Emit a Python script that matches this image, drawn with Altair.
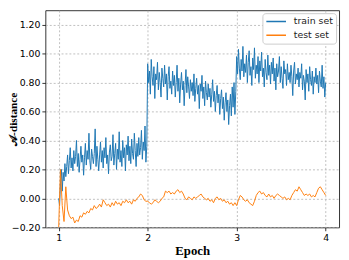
import altair as alt
import pandas as pd

# epochs sampled along the x axis
epoch_train = [round(1 + 0.01 * i, 2) for i in range(301)]
epoch_test = [round(1 + 0.02 * i, 2) for i in range(151)]

train_set = [
    0.00, -0.05, 0.10, 0.20, 0.05, 0.18, 0.12, 0.24, 0.15, 0.22,
    0.30, 0.17, 0.26, 0.35, 0.21, 0.28, 0.19, 0.33, 0.24, 0.29,
    0.40, 0.22, 0.31, 0.18, 0.27, 0.36, 0.25, 0.30, 0.16, 0.28,
    0.38, 0.23, 0.33, 0.27, 0.45, 0.26, 0.20, 0.34, 0.29, 0.24,
    0.31, 0.48, 0.22, 0.36, 0.27, 0.19, 0.30, 0.39, 0.25, 0.33,
    0.21, 0.35, 0.28, 0.42, 0.24, 0.30, 0.17, 0.32, 0.37, 0.26,
    0.29, 0.44, 0.23, 0.31, 0.38, 0.20, 0.34, 0.27, 0.46, 0.25,
    0.33, 0.22, 0.40, 0.28, 0.35, 0.19, 0.37, 0.30, 0.43, 0.26,
    0.36, 0.24, 0.41, 0.31, 0.27, 0.45, 0.33, 0.22, 0.38, 0.29,
    0.42, 0.30, 0.35, 0.47, 0.27, 0.39, 0.33, 0.50, 0.25, 0.36,
    0.93, 0.80, 0.88, 0.72, 0.96, 0.84, 0.78, 0.91, 0.69, 0.86,
    0.82, 0.94, 0.75, 0.87, 0.80, 0.70, 0.90, 0.83, 0.77, 0.92,
    0.79, 0.86, 0.68, 0.84, 0.91, 0.76, 0.81, 0.72, 0.88, 0.78,
    0.85, 0.70, 0.80, 0.92, 0.74, 0.83, 0.66, 0.79, 0.87, 0.75,
    0.81, 0.64, 0.78, 0.89, 0.73, 0.84, 0.77, 0.69, 0.82, 0.74,
    0.80, 0.71, 0.86, 0.67, 0.76, 0.83, 0.72, 0.78, 0.62, 0.79,
    0.74, 0.85, 0.69, 0.77, 0.64, 0.81, 0.73, 0.68, 0.79, 0.70,
    0.76, 0.63, 0.72, 0.82, 0.67, 0.74, 0.60, 0.71, 0.78, 0.66,
    0.72, 0.58, 0.69, 0.75, 0.62, 0.70, 0.54, 0.66, 0.73, 0.60,
    0.68, 0.51, 0.64, 0.72, 0.57, 0.77, 0.63, 0.80, 0.58, 0.74,
    0.98, 0.86, 1.03, 0.90, 0.82, 0.96, 0.88, 1.05, 0.84, 0.93,
    0.87, 0.99, 0.80, 0.94, 1.02, 0.85, 0.91, 0.78, 0.97, 0.89,
    1.04, 0.83, 0.92, 0.86, 0.98, 0.80, 0.95, 0.88, 1.01, 0.84,
    0.90, 0.77, 0.96, 0.87, 0.82, 0.99, 0.85, 0.92, 0.79, 0.94,
    0.86, 0.97, 0.81, 0.90, 0.75, 0.93, 0.84, 0.88, 0.98, 0.80,
    0.91, 0.83, 0.76, 0.95, 0.86, 0.89, 0.78, 0.93, 0.82, 0.87,
    0.80, 0.92, 0.84, 0.71, 0.88, 0.94, 0.79, 0.86, 0.82, 0.90,
    0.77, 0.87, 0.83, 0.93, 0.75, 0.85, 0.81, 0.68, 0.89, 0.80,
    0.86, 0.74, 0.91, 0.82, 0.78, 0.88, 0.72, 0.84, 0.80, 0.90,
    0.79, 0.85, 0.73, 0.88, 0.81, 0.77, 0.92, 0.76, 0.84, 0.70,
    0.80,
]

test_set = [
    -0.20, 0.20, -0.05, -0.16, 0.08, -0.08, -0.12, -0.14, -0.13, -0.17,
    -0.15, -0.16, -0.12, -0.13, -0.10, -0.11, -0.09, -0.10, -0.07, -0.08,
    -0.05, -0.07, -0.06, -0.04, -0.06, -0.01, -0.03, -0.05, -0.04, -0.06,
    -0.03, -0.05, -0.02, -0.04, -0.03, -0.05, -0.02, -0.03, -0.01, -0.03,
    -0.02, -0.04, -0.01, -0.02, 0.00, 0.01, 0.03, 0.02, -0.01, -0.02,
    -0.02, -0.03, -0.04, -0.03, -0.01, -0.02, -0.03, -0.02, 0.00, 0.01,
    0.05, 0.04, 0.05, 0.03, 0.04, 0.03, 0.05, 0.06, 0.04, 0.05,
    0.03, 0.00, -0.01, 0.01, 0.00, -0.01, 0.01, 0.00, 0.01, 0.02,
    0.03, 0.01, 0.00, -0.01, 0.00, -0.02, -0.01, -0.03, 0.00, 0.01,
    -0.01, 0.00, -0.02, -0.01, -0.03, -0.02, -0.04, -0.03, -0.05, -0.03,
    -0.05, -0.01, 0.02, 0.01, -0.01, -0.02, -0.01, -0.03, -0.04, -0.05,
    -0.02, 0.02, 0.04, 0.05, 0.03, 0.04, 0.02, 0.01, 0.03, 0.01,
    0.02, 0.00, 0.02, 0.03, 0.02, 0.01, 0.00, 0.01, -0.01, 0.00,
    -0.01, 0.02, 0.04, 0.06, 0.05, 0.08, 0.06, 0.04, 0.02, 0.03,
    0.02, 0.03, 0.01, 0.02, 0.01, 0.04, 0.07, 0.08, 0.06, 0.04,
    0.02,
]

series_names = ["train set", "test set"]
series_colors = ["#1f77b4", "#ff7f0e"]
x_ticks = [1, 2, 3, 4]
y_ticks = [-0.2, 0.0, 0.2, 0.4, 0.6, 0.8, 1.0, 1.2]

df = pd.DataFrame({
    "Epoch": epoch_train + epoch_test,
    "value": train_set + test_set,
    "series": [series_names[0]] * len(epoch_train) + [series_names[1]] * len(epoch_test),
})

color = alt.Color(
    "series:N",
    scale=alt.Scale(domain=series_names, range=series_colors),
    legend=alt.Legend(
        title=None, orient="top-right", symbolType="stroke",
        symbolStrokeWidth=1.5, symbolSize=400, clipHeight=11,
        labelFont="DejaVu Sans", labelFontSize=9.5, labelColor="#222",
        fillColor="white", strokeColor="#cccccc", padding=3, cornerRadius=3,
        offset=3, rowPadding=3, labelOffset=7,
    ),
)

x = alt.X(
    "Epoch:Q",
    scale=alt.Scale(domain=[0.85, 4.15], nice=False, zero=False),
    axis=alt.Axis(values=x_ticks, format="d", title="Epoch", titleFont="Liberation Serif",
                  titleFontWeight="bold", titleFontSize=13, titlePadding=3),
)
y = alt.Y(
    "value:Q",
    scale=alt.Scale(domain=[-0.2, 1.3], nice=False, zero=False),
    axis=alt.Axis(values=y_ticks, format=".2f", title="𝒜-distance", titleFont="Liberation Serif",
                  titleFontWeight="bold", titleFontSize=11.5, titleX=-29, titleBaseline="alphabetic"),
)

base = alt.Chart(df).mark_line(strokeWidth=1, clip=True).encode(x=x, y=y, color=color)
train = base.transform_filter(alt.datum.series == series_names[0])
test = base.transform_filter(alt.datum.series == series_names[1])

chart = alt.layer(train, test).properties(
    width=299, height=221,
    autosize=alt.AutoSizeParams(type="none"),
    padding={"left": 38, "top": 0, "right": 2, "bottom": 30},
).configure_view(
    stroke="#333333", strokeWidth=1
).configure_axis(
    domain=False, grid=True, gridDash=[2, 2], gridColor="#b0b0b0", gridWidth=0.8,
    tickColor="#000", tickSize=3.5, tickWidth=0.8,
    labelFont="DejaVu Sans", labelFontSize=9.5, labelColor="#000", labelPadding=2,
    titleColor="#000",
)

chart.save("out.html", embed_options={"renderer": "svg", "actions": False})
